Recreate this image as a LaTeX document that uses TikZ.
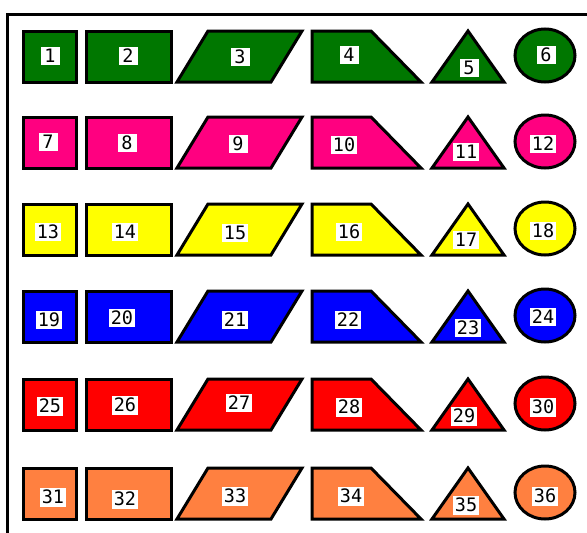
\documentclass[tikz,border=0pt]{standalone}
\usepackage{fontspec}
\newfontfamily\lblfont{DejaVu Sans Mono}
\definecolor{cgreen}{HTML}{007700}
\definecolor{cpink}{HTML}{FF0080}
\definecolor{cyellow}{HTML}{FFFF00}
\definecolor{cblue}{HTML}{0000FF}
\definecolor{cred}{HTML}{FF0000}
\definecolor{corange}{HTML}{FF8040}
\tikzset{
  shp/.style={draw=black, line width=3pt, line join=miter},
  lbl/.style={fill=white, inner xsep=2pt, inner ysep=2.5pt, minimum width=19pt,
    font=\lblfont\fontsize{18.5}{18.5}\selectfont, text=black},
  frame/.style={draw=black, line width=3pt}
}
\begin{document}
\begin{tikzpicture}[x=1pt,y=-1pt]
\useasboundingbox (0,0) rectangle (587,533);
\fill[white] (0,0) rectangle (587,533);
\coordinate (fr) at (590,14);
\coordinate (fc) at (7,14);
\coordinate (fb) at (7,536);
\draw[frame] (fr) -- (fc) -- (fb);
\foreach \t/\c in {31/cgreen,117/cpink,204/cyellow,291/cblue,379/cred,468/corange}{
  \draw[shp,fill=\c] (23,\t) rectangle (76,\t+51);
  \draw[shp,fill=\c] (86,\t) rectangle (171,\t+51);
  \draw[shp,fill=\c] (177,\t+51) -- (208,\t) -- (302,\t) -- (271,\t+51) -- cycle;
  \draw[shp,fill=\c] (312,\t+51) -- (312,\t) -- (371,\t) -- (421,\t+51) -- cycle;
  \draw[shp,fill=\c] (432,\t+51) -- (468,\t) -- (504,\t+51) -- cycle;
  \draw[shp,fill=\c] (545,\t+24.5) ellipse [x radius=30, y radius=26.5];
}
% row 1
\node[lbl] (n1) at (50,56) {1};
\node[lbl] (n2) at (128,56) {2};
\node[lbl] (n3) at (240,57) {3};
\node[lbl] (n4) at (349,55) {4};
\node[lbl] (n5) at (469,68) {5};
\node[lbl] (n6) at (546,55) {6};
% row 2
\node[lbl] (n7) at (48,142) {7};
\node[lbl] (n8) at (127,143) {8};
\node[lbl] (n9) at (238,144) {9};
\node[lbl] (n10) at (344,145) {10};
\node[lbl] (n11) at (466,152) {11};
\node[lbl] (n12) at (543,144) {12};
% row 3
\node[lbl] (n13) at (48,232) {13};
\node[lbl] (n14) at (125,232) {14};
\node[lbl] (n15) at (235,233) {15};
\node[lbl] (n16) at (349,232) {16};
\node[lbl] (n17) at (466,240) {17};
\node[lbl] (n18) at (543,231) {18};
% row 4
\node[lbl] (n19) at (49,320) {19};
\node[lbl] (n20) at (122,318) {20};
\node[lbl] (n21) at (235,320) {21};
\node[lbl] (n22) at (348,320) {22};
\node[lbl] (n23) at (468,328) {23};
\node[lbl] (n24) at (543,317) {24};
% row 5
\node[lbl] (n25) at (50,406) {25};
\node[lbl] (n26) at (125,405) {26};
\node[lbl] (n27) at (239,403) {27};
\node[lbl] (n28) at (349,407) {28};
\node[lbl] (n29) at (464,416) {29};
\node[lbl] (n30) at (543,407) {30};
% row 6
\node[lbl] (n31) at (53,497) {31};
\node[lbl] (n32) at (125,499) {32};
\node[lbl] (n33) at (235,496) {33};
\node[lbl] (n34) at (351,496) {34};
\node[lbl] (n35) at (466,505) {35};
\node[lbl] (n36) at (545,496) {36};
\end{tikzpicture}
\end{document}
